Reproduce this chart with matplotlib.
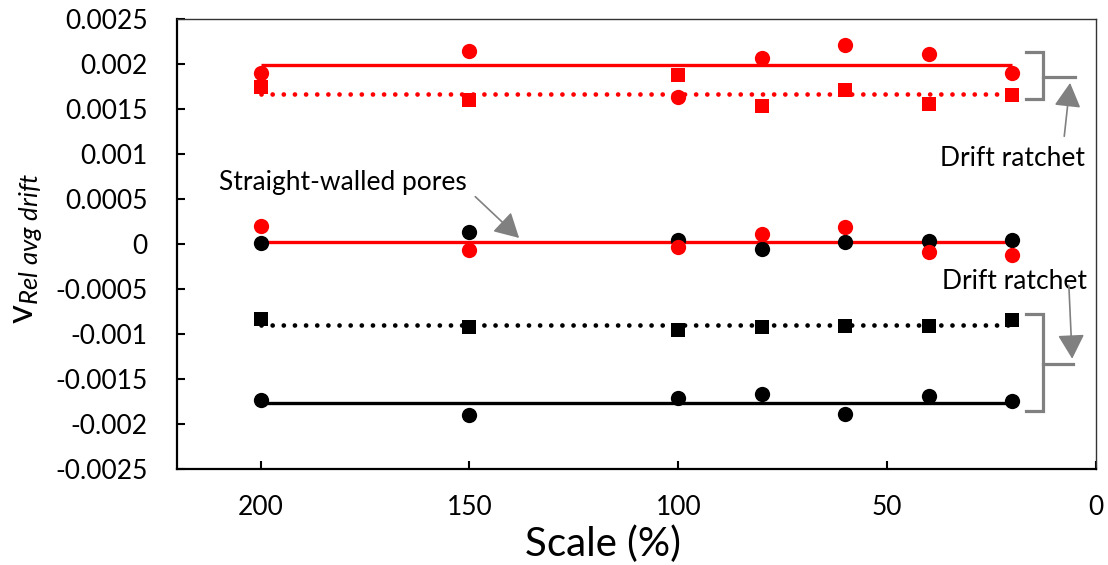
import numpy as np
import matplotlib
matplotlib.use("Agg")
import matplotlib.pyplot as plt

plt.rcParams['font.family'] = ['Lato', 'DejaVu Sans']
plt.rcParams['mathtext.fontset'] = 'custom'
plt.rcParams['mathtext.rm'] = 'Lato'
plt.rcParams['mathtext.it'] = 'Lato:italic'

# ---- data ----
scale = [200, 150, 100, 80, 60, 40, 20]
red_circ_top = [0.00190, 0.00214, 0.00163, 0.00207, 0.00221, 0.00211, 0.00190]
red_sq_top = [0.00175, 0.00160, 0.00188, 0.00153, 0.00171, 0.00156, 0.00166]
red_circ_zero = [0.00020, -0.000067, -0.00003, 0.00011, 0.00019, -0.000086, -0.000123]
blk_circ_zero = [0.000015, 0.00013, 0.00005, -0.00005, 0.00002, 0.00003, 0.00004]
blk_sq = [-0.00083, -0.000917, -0.00095, -0.000917, -0.000906, -0.000913, -0.000842]
blk_circ = [-0.00173, -0.00190, -0.00171, -0.00167, -0.00189, -0.00169, -0.00174]

yticks = [0.0025, 0.002, 0.0015, 0.001, 0.0005, 0, -0.0005, -0.001, -0.0015, -0.002, -0.0025]
ytick_labels = ['0.0025', '0.002', '0.0015', '0.001', '0.0005', '0', '-0.0005',
                '-0.001', '-0.0015', '-0.002', '-0.0025']
xticks = [200, 150, 100, 50, 0]
xtick_labels = ['200', '150', '100', '50', '0']

fig = plt.figure(figsize=(11.08, 5.65), dpi=100)
ax = fig.add_axes([177/1108, 1-469/565, (1096-177)/1108, (469-19)/565])

RED = '#FF0000'
BLK = '#000000'
xs = np.array(scale)
xline = [xs.max(), xs.min()]

def series(y, color, marker, ls, trend=True):
    y = np.array(y)
    m = y.mean()
    if trend:
        if ls == 'dot':
            ax.plot(xline, [m, m], color=color, lw=3.4, linestyle=(0, (0.01, 2.35)),
                    dash_capstyle='round', zorder=2)
        else:
            ax.plot(xline, [m, m], color=color, lw=2.4, linestyle='-',
                    solid_capstyle='butt', zorder=2)
    ax.plot(xs, y, linestyle='none', marker=marker, color=color,
            markersize=11 if marker == 'o' else 10.5, markeredgewidth=0, zorder=3)

series(blk_circ, BLK, 'o', '-')
series(blk_sq, BLK, 's', 'dot')
series(blk_circ_zero, BLK, 'o', '-', trend=False)
series(red_circ_zero, RED, 'o', '-')
series(red_sq_top, RED, 's', 'dot')
series(red_circ_top, RED, 'o', '-')

ax.set_xlim(220, 0)
ax.set_ylim(-0.0025, 0.0025)
ax.set_yticks(yticks)
ax.set_yticklabels(ytick_labels)
ax.set_xticks(xticks)
ax.set_xticklabels(xtick_labels)
ax.tick_params(axis='both', direction='in', length=6, width=1.5, labelsize=19, colors='black')
ax.tick_params(axis='y', pad=21)
ax.tick_params(axis='x', pad=19)
ax.tick_params(top=False, right=False)
for s in ['left', 'bottom']:
    ax.spines[s].set_linewidth(1.6)
for s in ['top', 'right']:
    ax.spines[s].set_linewidth(1.0)
    ax.spines[s].set_color('#333333')

ax.set_xlabel('Scale (%)', fontsize=29)
ax.xaxis.set_label_coords(0.4636, -0.125)
ax.set_ylabel(r'$\mathrm{v}_{\mathit{Rel\ avg\ drift}}$', fontsize=26.5)
ax.yaxis.set_label_coords(-0.1436, 0.49)

GRAY = '#808080'
astyle = dict(arrowstyle='-|>,head_length=1.0,head_width=0.55', color=GRAY, lw=1.2,
              shrinkA=0, shrinkB=0, mutation_scale=15)
# annotations
ax.text(180.4, 0.000604, 'Straight-walled pores', fontsize=19, ha='center', va='baseline')
ax.annotate('', xy=(138.1, 0.000067), xytext=(148.6, 0.000526), arrowprops=astyle)

ax.text(20.1, 0.000865, 'Drift ratchet', fontsize=19, ha='center', va='baseline')
ax.annotate('', xy=(6.2, 0.00179), xytext=(7.6, 0.001197), arrowprops=astyle)
ax.plot([16.7, 12.7, 12.7, 16.7], [0.002137, 0.002137, 0.001611, 0.001611],
        color=GRAY, lw=2.3, solid_joinstyle='miter', clip_on=False)
ax.plot([12.7, 5.0], [0.00186, 0.00186], color=GRAY, lw=2.3, clip_on=False)

ax.text(19.4, -0.000496, 'Drift ratchet', fontsize=19, ha='center', va='baseline')
ax.annotate('', xy=(5.7, -0.001275), xytext=(6.5, -0.000459), arrowprops=astyle)
ax.plot([16.7, 12.7, 12.7, 16.7], [-0.000783, -0.000783, -0.001857, -0.001857],
        color=GRAY, lw=2.3, solid_joinstyle='miter', clip_on=False)
ax.plot([12.7, 5.5], [-0.001328, -0.001328], color=GRAY, lw=2.3, clip_on=False)

fig.savefig('out.png', dpi=100)
